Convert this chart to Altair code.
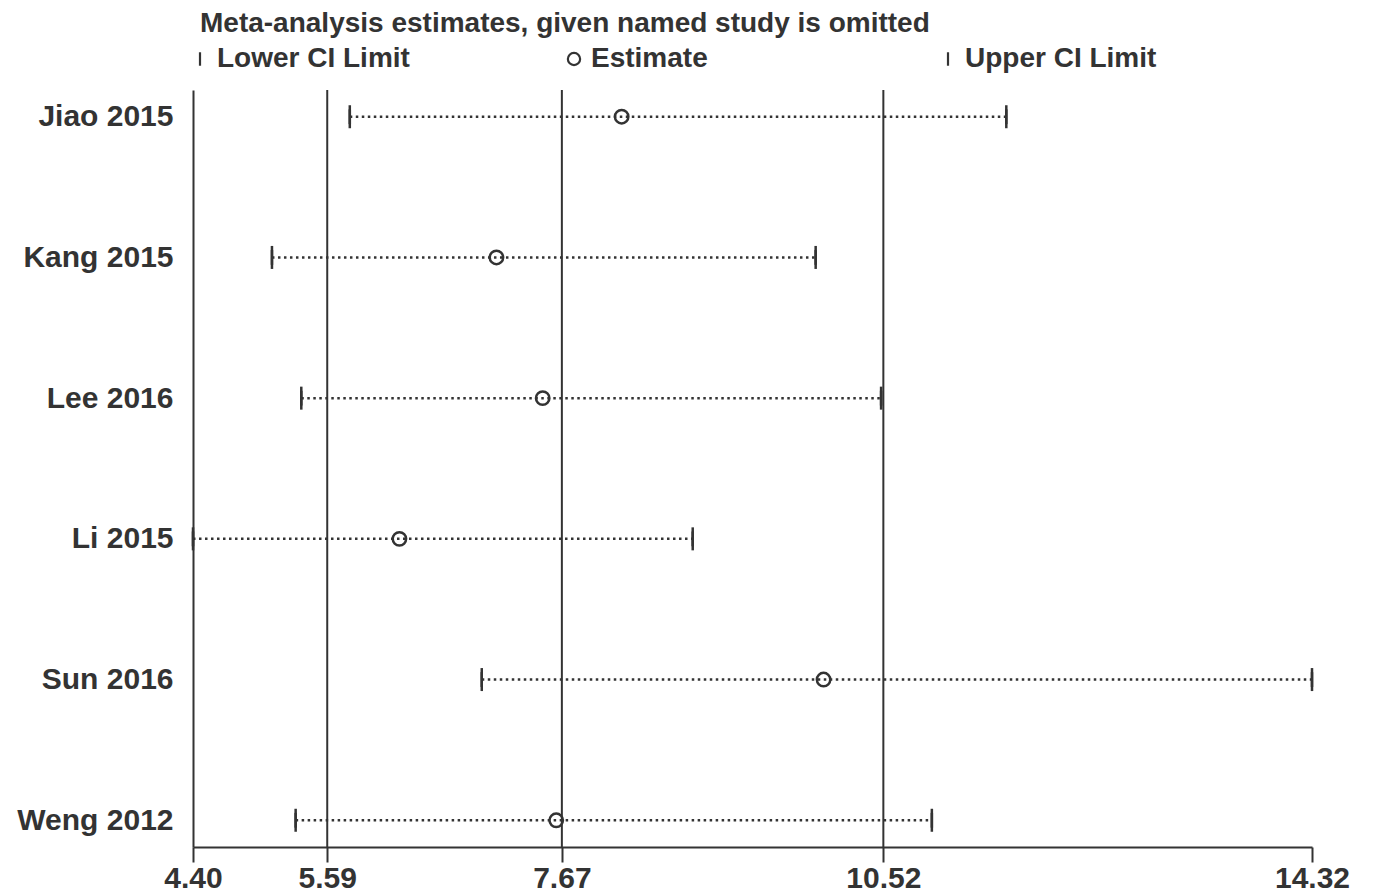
import altair as alt
import pandas as pd

studies = ["Jiao 2015", "Kang 2015", "Lee 2016", "Li 2015", "Sun 2016", "Weng 2012"]
lower = [5.79, 5.10, 5.36, 4.40, 6.96, 5.31]
estimate = [8.20, 7.09, 7.50, 6.23, 9.99, 7.62]
upper = [11.61, 9.92, 10.50, 8.83, 14.32, 10.95]
overall = [5.59, 7.67, 10.52]
tick_values = [4.40, 5.59, 7.67, 10.52, 14.32]
kinds = ["Lower CI Limit", "Estimate", "Upper CI Limit"]

INK = "#333333"
FONT = "Liberation Sans"

wide = pd.DataFrame({"study": studies, "lower": lower, "estimate": estimate, "upper": upper})
long = pd.concat([
    pd.DataFrame({"study": studies, "value": lower, "kind": kinds[0]}),
    pd.DataFrame({"study": studies, "value": estimate, "kind": kinds[1]}),
    pd.DataFrame({"study": studies, "value": upper, "kind": kinds[2]}),
])
caps = long[long["kind"] != "Estimate"]
ref = pd.DataFrame({"value": overall})

xscale = alt.Scale(domain=[4.40, 14.32], nice=False, zero=False)
yscale = alt.Scale(type="point", padding=0.19)

xaxis = alt.Axis(values=tick_values, format=".2f", title=None, grid=False,
                 domainColor=INK, domainWidth=2, tickColor=INK, tickWidth=2, tickSize=15,
                 labelFont=FONT, labelFontSize=30, labelFontWeight="bold", labelColor=INK,
                 labelPadding=1, labelFlush=False)
yaxis = alt.Axis(title=None, ticks=False, grid=False, domainColor=INK, domainWidth=2,
                 labelFont=FONT, labelFontSize=30, labelFontWeight="bold", labelColor=INK,
                 labelPadding=20)

X = alt.X("value:Q", scale=xscale, axis=xaxis)
Y = alt.Y("study:N", sort=studies, scale=yscale, axis=yaxis)

rules = alt.Chart(ref).mark_rule(color=INK, strokeWidth=2).encode(x=X)

ci = alt.Chart(wide).mark_rule(color=INK, strokeWidth=2.5, strokeDash=[2.5, 3.5]).encode(
    x=alt.X("lower:Q", scale=xscale, axis=xaxis),
    x2="upper:Q",
    y=Y,
)

cap_ticks = alt.Chart(caps).mark_tick(color=INK, thickness=2.5, size=23, opacity=1).encode(x=X, y=Y)

legend = alt.Legend(
    title=None, orient="none", legendX=-7, legendY=-45,
    direction="horizontal", columns=3, gridAlign="all", columnPadding=150,
    symbolSize=150, symbolStrokeWidth=2.2, symbolStrokeColor=INK, symbolFillColor="transparent",
    labelFont=FONT, labelFontSize=28, labelFontWeight="bold", labelColor=INK,
    labelOffset=3, labelLimit=400,
)

pts = alt.Chart(long).mark_point(filled=False, color=INK, strokeWidth=2.5, opacity=1, size=180).encode(
    x=X, y=Y,
    shape=alt.Shape("kind:N",
                    scale=alt.Scale(domain=kinds, range=["M0,-1.1L0,1.1", "circle", "M0,-1.1L0,1.1"]),
                    legend=legend),
)

chart = alt.layer(rules, ci, cap_ticks, pts).properties(
    width=1119, height=757,
    autosize=alt.AutoSizeParams(type="none"),
    padding={"left": 185, "top": 82, "right": 55, "bottom": 47},
    title=alt.TitleParams("Meta-analysis estimates, given named study is omitted",
                          anchor="start", frame="group", font=FONT, fontSize=28,
                          fontWeight="bold", color=INK, dx=7, offset=7),
).configure(background="white").configure_view(stroke=None)

chart.save("out.html", embed_options={"renderer": "svg", "actions": False})
